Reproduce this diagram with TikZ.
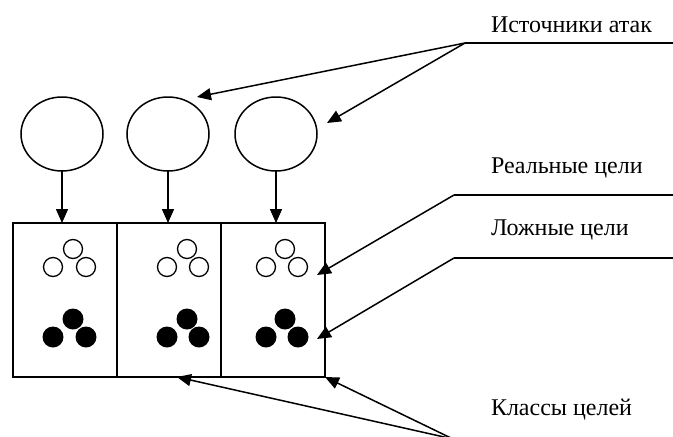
\documentclass[tikz,border=0pt]{standalone}
\usepackage{fontspec}
\setmainfont{Liberation Serif}
\usetikzlibrary{arrows.meta,calc,shapes.geometric}
\begin{document}
\begin{tikzpicture}[x=1pt,y=-1pt,
  line width=1.5pt,
  every node/.style={inner sep=0pt,outer sep=0pt},
  src/.style={draw,ellipse,minimum width=82pt,minimum height=74pt},
  cls/.style={draw,rectangle,minimum width=104pt,minimum height=154pt},
  real/.style={draw,circle,minimum size=19pt,line width=1.3pt},
  fake/.style={fill=black,circle,minimum size=21pt},
  lbl/.style={anchor=base west,font=\fontsize{24}{28}\selectfont},
  tip/.style={-{Triangle[length=14pt,width=12pt]}}
]
\useasboundingbox (0,0) rectangle (673,437);
\clip (0,0) rectangle (673,437);

% attack sources
\node[src] (e1) at (62,134) {};
\node[src] (e2) at (168,134) {};
\node[src] (e3) at (276,134) {};

% target classes
\node[cls] (c1) at (65,300) {};
\node[cls] (c2) at (169,300) {};
\node[cls] (c3) at (273,300) {};

% real (open) and false (filled) targets in each class
\foreach \i/\a/\b/\c in {1/53/73/86, 2/167/187/199, 3/266/285/298}{
  \node[real] (r\i a) at (\a,267) {};
  \node[real] (r\i b) at (\b,249) {};
  \node[real] (r\i c) at (\c,267) {};
  \node[fake] (f\i a) at (\a,337) {};
  \node[fake] (f\i b) at (\b,319) {};
  \node[fake] (f\i c) at (\c,337) {};
}

% sources attack their classes
\foreach \i in {1,2,3}
  \draw[tip] (e\i.south) -- (e\i.south |- c\i.north);

% labels
\node[lbl] (la) at (491,32) {Источники атак};
\node[lbl] (lr) at (491,173) {Реальные цели};
\node[lbl] (lf) at (491,235) {Ложные цели};
\node[lbl] (lc) at (491,415) {Классы целей};

% leader lines
\coordinate (ha) at (465,43);
\coordinate (hae) at (680,43);
\coordinate (hr) at (454,195);
\coordinate (hre) at (680,195);
\coordinate (hf) at (454,258);
\coordinate (hfe) at (680,258);
\coordinate (hc) at (453,439);

\coordinate (ta1) at ([shift={(29,-37)}]e2.center);
\coordinate (ta2) at ([shift={(51,-11)}]e3.center);
\coordinate (tr) at (317,275);
\coordinate (tf) at (317,339);
\coordinate (tc1) at ($(c2.south west)+(60,0)$);
\coordinate (tc2) at (c3.south east);

\draw (hae) -- (ha);
\draw[tip] (ha) -- (ta1);
\draw[tip] (ha) -- (ta2);
\draw (hre) -- (hr);
\draw[tip] (hr) -- (tr);
\draw (hfe) -- (hf);
\draw[tip] (hf) -- (tf);
\draw[tip] (hc) -- (tc1);
\draw[tip] (hc) -- (tc2);
\end{tikzpicture}
\end{document}
